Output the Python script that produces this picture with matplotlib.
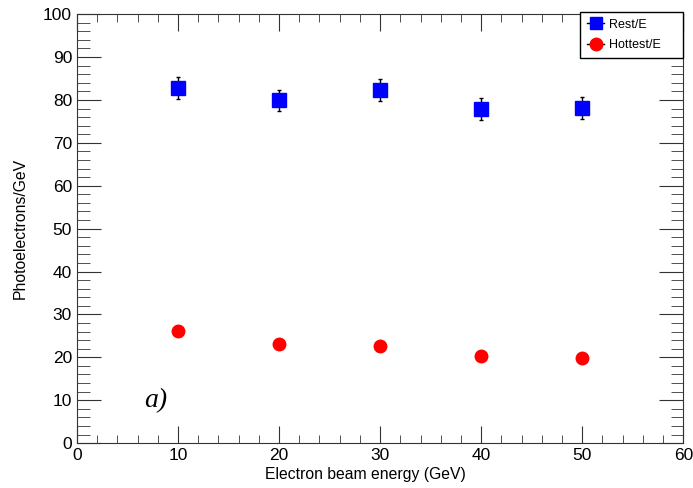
import numpy as np
import matplotlib
matplotlib.use("Agg")
import matplotlib.pyplot as plt
from matplotlib.lines import Line2D

#-----------------------
#Data
#-----------------------
energy = [10, 20, 30, 40, 50]
rest = [82.8, 79.9, 82.3, 77.9, 78.1]
rest_err = [2.6, 2.5, 2.6, 2.5, 2.5]
hottest = [26.2, 23.2, 22.7, 20.4, 19.8]

plt.rcParams['font.family'] = ['Liberation Sans', 'DejaVu Sans']

fig = plt.figure(figsize=(6.93, 4.88), dpi=100)
ax = fig.add_axes([0.111, 0.092, 0.875, 0.879])

ax.errorbar(energy, rest, yerr=rest_err, fmt='s', color='blue', ms=10,
            ecolor='black', elinewidth=1, capsize=1.5)
ax.plot(energy, hottest, 'o', color='red', ms=9)

ax.set_xlim(0, 60)
ax.set_ylim(0, 100)
ax.set_xticks(np.arange(0, 61, 10))
ax.set_xticks(np.arange(0, 61, 2), minor=True)
ax.set_yticks(np.arange(0, 101, 10))
ax.set_yticks(np.arange(0, 101, 2), minor=True)
ax.tick_params(which='both', direction='in', top=True, right=True, labelsize=12.5, color='#333333')
ax.tick_params(axis='y', which='major', length=17)
ax.tick_params(axis='y', which='minor', length=9)
ax.tick_params(axis='x', which='major', length=12)
ax.tick_params(axis='x', which='minor', length=6)
for s in ax.spines.values():
    s.set_color('#333333')

ax.set_xlabel("Electron beam energy (GeV)", fontsize=11.3, ha='right')
ax.xaxis.set_label_coords(0.642, -0.056)
ax.set_ylabel("Photoelectrons/GeV", fontsize=11.3)
ax.yaxis.set_label_coords(-0.081, 0.5)

ax.text(6.7, 8.3, "a)", fontsize=20, family='Liberation Serif', style='italic')

# legend entries, ROOT style with line through the marker
handles = [Line2D([], [], color='black', lw=1, marker='s', ms=9, mfc='blue', mec='blue'),
           Line2D([], [], color='black', lw=1, marker='o', ms=9, mfc='red', mec='red')]
leg = ax.legend(handles, ['Rest/E', 'Hottest/E'], loc='upper left', mode='expand',
                bbox_to_anchor=(580 / 693, 1 - 54 / 488, 103 / 693, 42 / 488),
                bbox_transform=fig.transFigure,
                borderaxespad=0, fontsize=9, fancybox=False, edgecolor='black',
                framealpha=1, handlelength=1.4, borderpad=0.55, labelspacing=0.65,
                handletextpad=0.4)
leg.get_frame().set_linewidth(1)

fig.savefig("out.png", dpi=100)
